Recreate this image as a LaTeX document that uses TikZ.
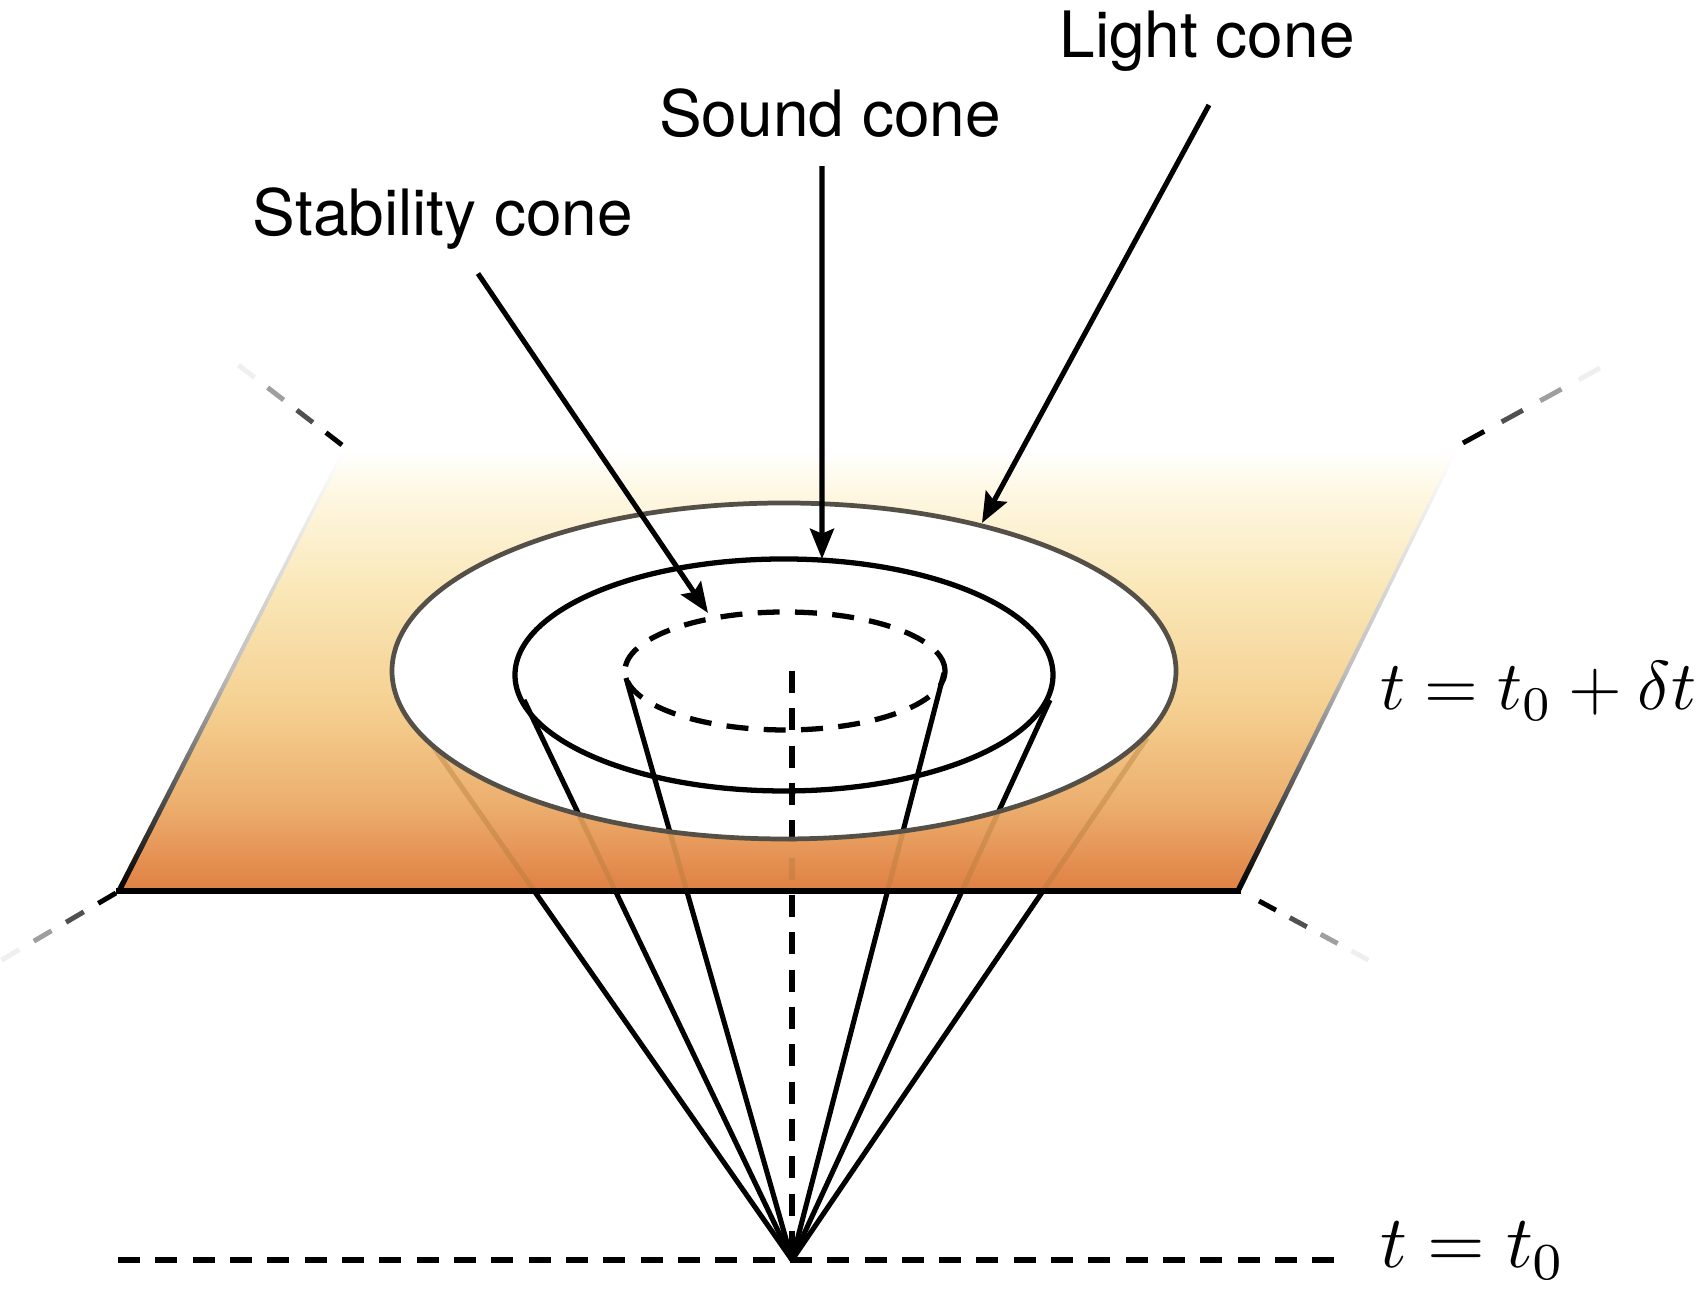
\documentclass[tikz,border=0pt]{standalone}
\usepackage[no-math]{fontspec}
\usepackage{xcolor}
\usetikzlibrary{arrows.meta,calc}
\newfontfamily\labelfont{TeX Gyre Heros}
\definecolor{faintline}{RGB}{176,122,56}
\definecolor{rimgray}{RGB}{84,80,72}
\pgfdeclareverticalshading{planeshade}{100bp}{
  color(0bp)=(rgb,255:red,224;green,128;blue,68);
  color(25bp)=(rgb,255:red,224;green,128;blue,68);
  color(35bp)=(rgb,255:red,236;green,175;blue,110);
  color(46bp)=(rgb,255:red,245;green,208;blue,145);
  color(59.6bp)=(rgb,255:red,250;green,232;blue,185);
  color(70.7bp)=(rgb,255:red,254;green,248;blue,228);
  color(75bp)=(rgb,255:red,255;green,255;blue,255);
  color(100bp)=(rgb,255:red,255;green,255;blue,255)}
\pgfdeclareverticalshading{edgeshade}{100bp}{
  color(0bp)=(black);
  color(25bp)=(black);
  color(50bp)=(rgb,255:red,190;green,190;blue,190);
  color(75bp)=(rgb,255:red,255;green,255;blue,255);
  color(100bp)=(rgb,255:red,255;green,255;blue,255)}
\tikzset{
  conetext/.style={inner sep=0pt,font=\labelfont\fontsize{18.2}{22}\selectfont},
  timetext/.style={inner sep=0pt,scale=#1},
  coneline/.style={line width=1.45pt},
  dashline/.style={line width=1.5pt,dash pattern=on 6.26pt off 4.36pt},
  pointer/.style={line width=1.45pt,-{Stealth[length=8.6pt,width=6.8pt,inset=1.4pt]}}
}
\begin{document}
\begin{tikzpicture}
\useasboundingbox (0,0) rectangle (17.02,12.94);
\coordinate (apex) at (7.92,0.34);
\coordinate (axis) at (7.92,6.23);
\coordinate (bl) at (1.16,4.03);
\coordinate (br) at (12.41,4.03);
\coordinate (tl) at (3.42,8.43);
\coordinate (tr) at (14.57,8.43);
% rim points of the three cones
\coordinate (rim1) at (4.12,5.78);
\coordinate (rim2) at (5.24,5.94);
\coordinate (rim3) at (6.26,6.16);
\coordinate (rim4) at (9.44,6.21);
\coordinate (rim5) at (10.50,5.94);
\coordinate (rim6) at (11.47,5.56);
% the plane at the later time
\shade[shading=planeshade] (bl)--(br)--(tr)--(tl)--cycle;
\shade[shading=edgeshade] (bl)--(tl)--($(tl)+(.03,0)$)--($(bl)+(.06,0)$)--cycle;
\shade[shading=edgeshade] (br)--(tr)--($(tr)+(-.03,0)$)--($(br)+(-.06,0)$)--cycle;
% fading dashes leaving the corners
\foreach \ax/\ay/\bx/\by in {3.42/8.49/2.37/9.30,14.63/8.51/16.02/9.27,1.16/4.01/0/3.33,12.59/3.93/13.70/3.33} {
  \foreach \k in {0,...,3} {
    \pgfmathsetmacro{\op}{1-\k/3.2}
    \pgfmathsetmacro{\ks}{\k/3.6}
    \pgfmathsetmacro{\ke}{(\k+.55)/3.6}
    \draw[line width=1.4pt,opacity=\op] ($(\ax,\ay)!\ks!(\bx,\by)$)--($(\ax,\ay)!\ke!(\bx,\by)$);
  }
}
% the cones seen through the plane
\begin{scope}
\clip (bl)--(br)--(tr)--(tl)--cycle;
\foreach \r in {1,...,6} {
  \draw[coneline,faintline,opacity=.4] (apex)--(rim\r);
}
\draw[dashline,faintline,opacity=.4] (axis)--(apex);
\end{scope}
\fill[white] (7.84,6.23) ellipse [x radius=3.92,y radius=1.68];
\begin{scope}
\clip (7.84,6.23) ellipse [x radius=3.92,y radius=1.68];
\foreach \r in {2,...,5} {
  \draw[coneline] (apex)--(rim\r);
}
\draw[dashline] (axis)--(apex);
\end{scope}
\begin{scope}
\clip (0,0) rectangle (17.02,4.03);
\foreach \r in {1,...,6} {
  \draw[coneline] (apex)--(rim\r);
}
\draw[dashline] (axis)--(apex);
\end{scope}
\draw[line width=1.35pt,rimgray] (7.84,6.23) ellipse [x radius=3.92,y radius=1.68];
\draw[line width=1.5pt] (7.84,6.19) ellipse [x radius=2.69,y radius=1.16];
\draw[dashline] (7.85,6.23) ellipse [x radius=1.60,y radius=0.59];
\draw[line width=1.5pt] (bl)--(br);
% time slices
\draw[dashline] (1.18,0.34)--(13.35,0.34);
\node[timetext=1.966,anchor=base west] (later) at (13.79,5.84) {$t=t_0+\delta t$};
\node[timetext=2.11,anchor=base west] (start) at (13.79,0.26) {$t=t_0$};
% labels and their arrows
\node[conetext] (lightcone) at (12.07,12.53) {Light cone};
\node[conetext] (soundcone) at (8.30,11.81) {Sound cone};
\node[conetext] (stabcone) at (4.43,10.75) {Stability cone};
\coordinate (lighttip) at (9.82,7.71);
\coordinate (soundtip) at (8.22,7.35);
\coordinate (stabtip) at (7.08,6.81);
\draw[pointer] ($(lightcone.south)+(.02,-.33)$)--(lighttip);
\draw[pointer] ($(soundcone.south)+(-.08,-.28)$)--(soundtip);
\draw[pointer] ($(stabcone.south)+(.35,-.23)$)--(stabtip);
\end{tikzpicture}
\end{document}
